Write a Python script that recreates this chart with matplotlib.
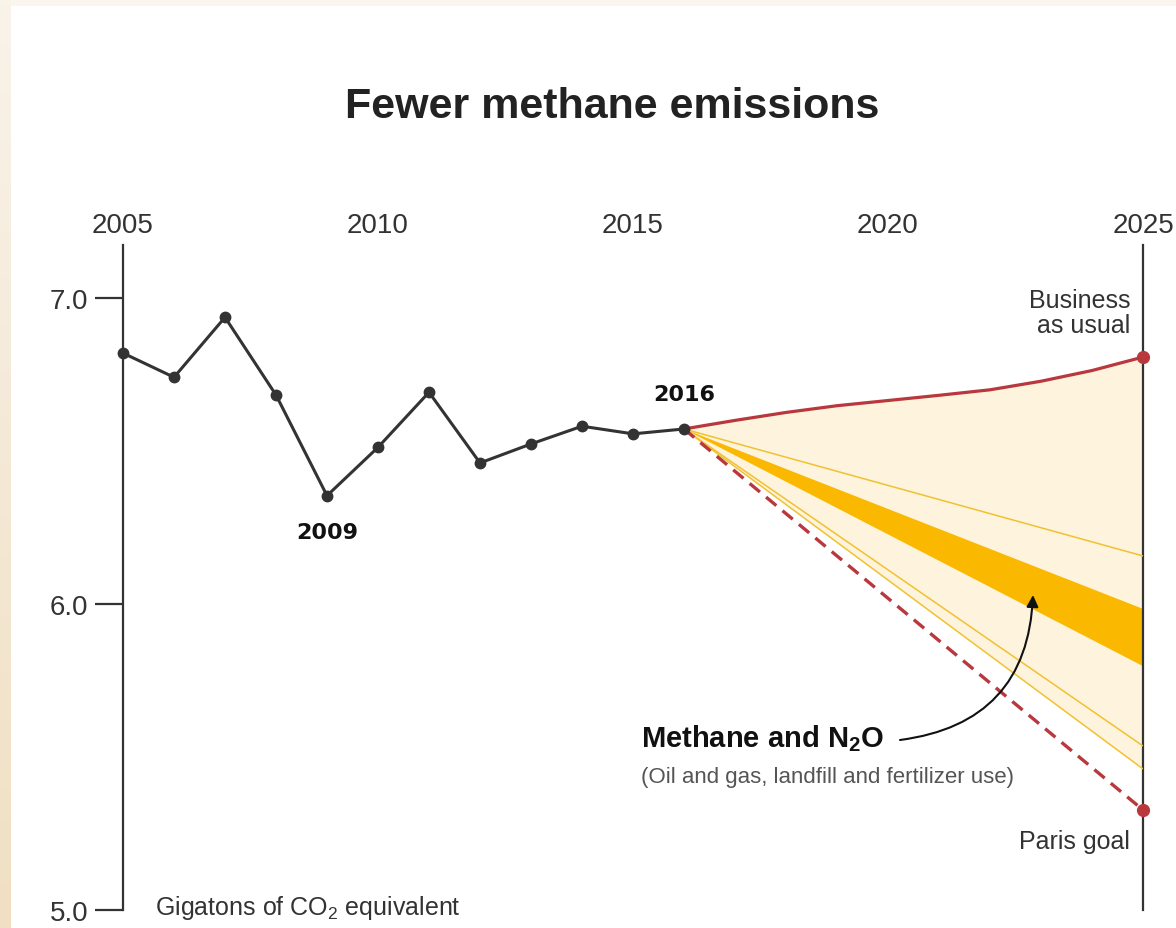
import numpy as np
import matplotlib
matplotlib.use("Agg")
import matplotlib.pyplot as plt
from matplotlib.patches import Rectangle

# ---------------- data ----------------
hist_years = [2005, 2006, 2007, 2008, 2009, 2010, 2011, 2012, 2013, 2014, 2015, 2016]
hist_values = [6.820, 6.741, 6.937, 6.683, 6.354, 6.512, 6.692, 6.461, 6.523, 6.581, 6.556, 6.572]

bau_years = [2016, 2017, 2018, 2019, 2020, 2021, 2022, 2023, 2024, 2025]
bau_values = [6.572, 6.600, 6.626, 6.648, 6.665, 6.682, 6.700, 6.728, 6.763, 6.807]

paris_years = [2016, 2025]
paris_values = [6.572, 5.327]

fan_years = [2016, 2025]
fan_upper_line = [6.572, 6.157]
band_top = [6.572, 5.984]
band_bottom = [6.572, 5.797]
fan_low_line1 = [6.572, 5.536]
fan_low_line2 = [6.572, 5.461]

x_ticks = [2005, 2010, 2015, 2020, 2025]
y_ticks = [5.0, 6.0, 7.0]
y_ticklabels = ["5.0", "6.0", "7.0"]

# ---------------- style ----------------
W, H = 1176, 929
FONT = "Liberation Sans"
DARK = "#333333"
RED = "#b9383d"
LIGHT = "#fef3dc"
BAND = "#fbb800"
THIN = "#f0c232"

plt.rcParams["font.family"] = [FONT, "DejaVu Sans"]
plt.rcParams["mathtext.fontset"] = "custom"
plt.rcParams["mathtext.rm"] = FONT
plt.rcParams["mathtext.bf"] = FONT + ":bold"

fig = plt.figure(figsize=(W / 100, H / 100), dpi=100)
fig.patch.set_facecolor("#faf5ee")
fig.patches.append(Rectangle((11 / W, 0), 1, (H - 7) / H, transform=fig.transFigure,
                             facecolor="white", edgecolor="none", zorder=-10))
# left beige strip with gradient
ax_s = fig.add_axes([0, 0, 11 / W, 1])
top_c = np.array([0xf9, 0xf3, 0xea]) / 255
bot_c = np.array([0xf0, 0xdf, 0xc2]) / 255
t = np.linspace(0, 1, 200)[:, None]
grad = (top_c[None, :] * (1 - t) + bot_c[None, :] * t)[:, None, :]
ax_s.imshow(grad, aspect="auto", extent=[0, 1, 0, 1])
ax_s.axis("off")

# main axes: x 2005..2025 -> px 123..1143 ; y 5.0 at px 911, 7.0 at px 299
ppu = (911 - 299) / 2.0
y_top = 7.0 + (299 - 246) / ppu
ax = fig.add_axes([123 / W, 1 - 911 / H, (1143 - 123) / W, (911 - 246) / H])
ax.set_zorder(5)
ax.set_xlim(2005, 2025)
ax.set_ylim(5.0, y_top)
ax.patch.set_alpha(0)

for side in ["top", "bottom"]:
    ax.spines[side].set_visible(False)
for side in ["left", "right"]:
    ax.spines[side].set_color(DARK)
    ax.spines[side].set_linewidth(1.6)

ax.xaxis.tick_top()
ax.set_xticks(x_ticks)
ax.set_xticklabels([str(v) for v in x_ticks])
ax.tick_params(axis="x", length=0, pad=5, labelsize=20, labelcolor=DARK)
ax.set_yticks(y_ticks)
ax.set_yticklabels(y_ticklabels)
ax.tick_params(axis="y", left=True, right=False, length=20, width=1.6, color=DARK,
               pad=5, labelsize=20, labelcolor=DARK)

# light fan fill (BAU curve down to lowest projection line)
poly_x = list(bau_years) + [fan_years[1]]
poly_y = list(bau_values) + [fan_low_line2[1]]
ax.fill(poly_x, poly_y, color=LIGHT, lw=0, zorder=1)
# darker band
ax.fill([fan_years[0], fan_years[1], fan_years[1]],
        [band_top[0], band_top[1], band_bottom[1]], color=BAND, lw=0, zorder=2)
for ln in (fan_upper_line, fan_low_line1, fan_low_line2):
    ax.plot(fan_years, ln, color=THIN, lw=1.1, zorder=3, solid_capstyle="butt")

# Paris dashed line
ax.plot(paris_years, paris_values, color=RED, lw=2.4, dashes=(4, 2.4), zorder=4)
# BAU
ax.plot(bau_years, bau_values, color=RED, lw=2.3, zorder=5, solid_capstyle="round",
        solid_joinstyle="round")
ax.plot([bau_years[-1], paris_years[-1]], [bau_values[-1], paris_values[-1]], "o",
        color=RED, ms=8.5, zorder=7, clip_on=False)

# historical
ax.plot(hist_years, hist_values, color=DARK, lw=2.2, marker="o", ms=7.5, zorder=6,
        solid_joinstyle="miter", clip_on=False)

# annotations
ax.text(2016, 6.686, "2016", ha="center", va="center", fontsize=16,
        fontweight="bold", family="DejaVu Sans", color="#111111")
ax.text(2009, 6.235, "2009", ha="center", va="center", fontsize=16,
        fontweight="bold", family="DejaVu Sans", color="#111111")
ax.text(2024.75, 6.954, "Business\nas usual", ha="right", va="center", fontsize=18,
        color=DARK, linespacing=1.05)
ax.text(2024.75, 5.225, "Paris goal", ha="right", va="center", fontsize=18, color=DARK)
ax.text(2005 + (641 - 123) / 51, 5.565, r"Methane and N$_\mathbf{2}$O", ha="left",
        va="center", fontsize=21, fontweight="bold", color="#111111")
ax.text(2005 + (641 - 123) / 51, 5.435, "(Oil and gas, landfill and fertilizer use)",
        ha="left", va="center", fontsize=16, color="#555555")
ax.text(2005 + (155 - 123) / 51, 5.01, r"Gigatons of CO$_2$ equivalent", ha="left",
        va="center", fontsize=18, color=DARK)

ax.annotate("", xy=(2005 + (1033 - 123) / 51, 7 - (596 - 299) / ppu),
            xytext=(2005 + (900 - 123) / 51, 7 - (741 - 299) / ppu),
            arrowprops=dict(arrowstyle="-|>,head_length=0.7,head_width=0.35", color="#111111",
                            lw=1.5, connectionstyle="arc3,rad=0.42", shrinkA=0, shrinkB=0),
            zorder=8)

fig.text(612 / W, 1 - 107 / H, "Fewer methane emissions", ha="center", va="center",
         fontsize=31, fontweight="bold", color="#222222")

fig.savefig("out.png", dpi=100, facecolor=fig.get_facecolor())
